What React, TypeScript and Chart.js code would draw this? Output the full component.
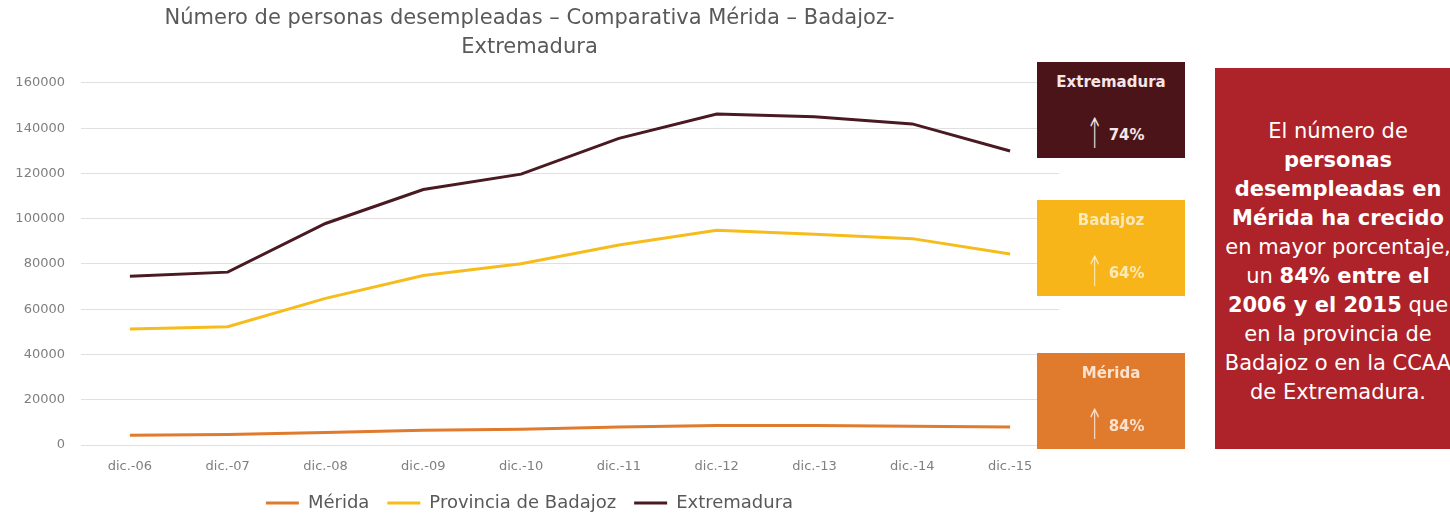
import React, { useEffect, useRef } from "react";
import { Chart, registerables } from "chart.js";

Chart.register(...registerables);

const categories = ["dic.-06", "dic.-07", "dic.-08", "dic.-09", "dic.-10", "dic.-11", "dic.-12", "dic.-13", "dic.-14", "dic.-15"];
const meridaValues = [4300, 4600, 5500, 6500, 7000, 7900, 8600, 8600, 8300, 7900];
const badajozValues = [51300, 52300, 64800, 74900, 80100, 88400, 94900, 93100, 91200, 84400];
const extremaduraValues = [74600, 76400, 97900, 112900, 119700, 135500, 146300, 145100, 141900, 129900];
const seriesNames = ["Mérida", "Provincia de Badajoz", "Extremadura"];
const seriesColors = ["#E07A2C", "#F6BC1C", "#4A1A22"];
const titleLines = ["Número de personas desempleadas – Comparativa Mérida – Badajoz-", "Extremadura"];
const yMax = 160000;
const yStep = 20000;

const boxNames = ["Extremadura", "Badajoz", "Mérida"];
const boxPercents = ["74%", "64%", "84%"];

const FONT = "'DejaVu Sans', Verdana, sans-serif";

function ChartCanvas() {
  const ref = useRef<HTMLCanvasElement | null>(null);
  useEffect(() => {
    if (!ref.current) return;
    const chart = new Chart(ref.current, {
      type: "line",
      data: {
        labels: categories,
        datasets: [
          { label: seriesNames[0], data: meridaValues, borderColor: seriesColors[0], backgroundColor: seriesColors[0], borderWidth: 3, pointRadius: 0, tension: 0 },
          { label: seriesNames[1], data: badajozValues, borderColor: seriesColors[1], backgroundColor: seriesColors[1], borderWidth: 3, pointRadius: 0, tension: 0 },
          { label: seriesNames[2], data: extremaduraValues, borderColor: seriesColors[2], backgroundColor: seriesColors[2], borderWidth: 3, pointRadius: 0, tension: 0 },
        ],
      },
      options: {
        animation: false,
        responsive: false,
        maintainAspectRatio: false,
        layout: { padding: { left: 0, right: 21, top: 0, bottom: -6 } },
        plugins: {
          title: {
            display: true,
            text: titleLines,
            color: "#595959",
            font: { family: FONT, size: 21, weight: "normal", lineHeight: 1.38 },
            padding: { top: 4, bottom: 21 },
          },
          legend: {
            display: true,
            position: "bottom",
            labels: {
              usePointStyle: true,
              pointStyle: "line",
              pointStyleWidth: 33,
              color: "#595959",
              font: { family: FONT, size: 18 },
              padding: 18,
            },
          },
          tooltip: { enabled: false },
        },
        scales: {
          x: {
            offset: true,
            grid: { display: false, drawTicks: false },
            border: { display: false },
            ticks: { color: "#7f7f7f", font: { family: FONT, size: 13 }, padding: 14, maxRotation: 0 },
            afterFit: (scale: any) => {
              scale.height = 31;
            },
          },
          y: {
            min: 0,
            max: yMax,
            grid: { color: "#e0e0e0", drawTicks: false },
            border: { display: false },
            ticks: {
              stepSize: yStep,
              color: "#7f7f7f",
              font: { family: FONT, size: 13 },
              padding: 16,
              callback: (v: any) => String(v),
            },
            afterFit: (scale: any) => {
              scale.width = 81;
            },
          },
        },
      },
    });
    return () => chart.destroy();
  }, []);
  return <canvas ref={ref} width={1080} height={516} style={{ position: "absolute", left: 0, top: 0, width: 1080, height: 516 }} />;
}

const boxStyle = (top: number, bg: string, textColor: string) => ({ top, bg, textColor });
const boxes = [
  boxStyle(62, "#4B1418", "#f6e6e6"),
  boxStyle(200, "#F7B51A", "#fde9b8"),
  boxStyle(353, "#E07A2C", "#fbe2cf"),
];

export default function App() {
  return (
    <div style={{ position: "absolute", left: 0, top: 0, width: 1450, height: 516, overflow: "hidden", background: "#ffffff" }}>
      <ChartCanvas />
      {boxes.map((b, i) => (
        <div
          key={i}
          style={{
            position: "absolute",
            left: 1037,
            top: b.top,
            width: 148,
            height: 96,
            background: b.bg,
            fontFamily: FONT,
            textAlign: "center",
            color: b.textColor,
          }}
        >
          <div style={{ position: "absolute", left: 0, right: 0, top: 11, fontSize: 15, lineHeight: "18px", fontWeight: "bold" }}>{boxNames[i]}</div>
          <div style={{ position: "absolute", left: 0, right: 0, top: 52, height: 40, lineHeight: "40px", whiteSpace: "nowrap" }}>
            <span style={{ fontSize: 42, fontWeight: 200, display: "inline-block", transform: "scaleX(0.5)", verticalAlign: "top", lineHeight: "40px", marginRight: -4 }}>↑</span>
            <span style={{ fontSize: 15, fontWeight: "bold", verticalAlign: "top", lineHeight: "42px" }}>{boxPercents[i]}</span>
          </div>
        </div>
      ))}
      <div
        style={{
          position: "absolute",
          left: 1215,
          top: 68,
          width: 246,
          height: 381,
          background: "#AE2229",
          color: "#ffffff",
          fontFamily: FONT,
          fontSize: 21,
          lineHeight: "29px",
          textAlign: "center",
          whiteSpace: "nowrap",
        }}
      >
        <div style={{ position: "absolute", left: -30, right: -30, top: 49 }}>
          El número de<br />
          <b>personas</b><br />
          <b>desempleadas en</b><br />
          <b>Mérida ha crecido</b><br />
          en mayor porcentaje,<br />
          un <b>84% entre el</b><br />
          <b>2006 y el 2015</b> que<br />
          en la provincia de<br />
          Badajoz o en la CCAA<br />
          de Extremadura.
        </div>
      </div>
    </div>
  );
}
